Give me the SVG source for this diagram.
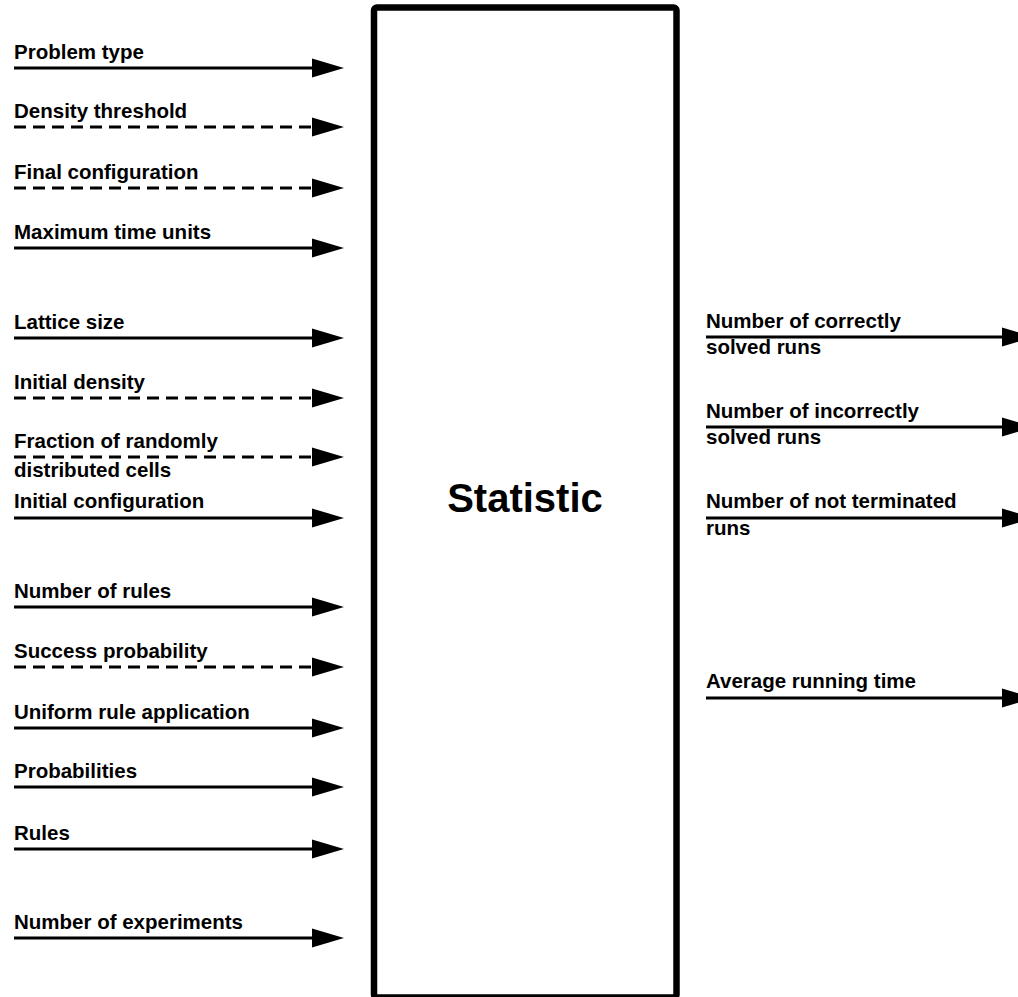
<svg xmlns="http://www.w3.org/2000/svg" width="1018" height="997" viewBox="0 0 1018 997">
<style>
text{font-family:"Liberation Sans",Arial,sans-serif;font-weight:bold;font-size:20.5px;fill:#000}
.title{font-size:40px}
.ln{stroke:#000;stroke-width:3;fill:none;marker-end:url(#ah)}
.d{stroke-dasharray:12 7}
</style>
<defs>
<marker id="ah" markerUnits="userSpaceOnUse" markerWidth="33" markerHeight="20" refX="0" refY="9.5" orient="auto" overflow="visible">
<path d="M0,0 L32,9.5 L0,19 Z" fill="#000" stroke="none"/>
</marker>
</defs>
<rect width="1018" height="997" fill="#fff"/>
<g id="statistic">
<rect x="374" y="7.5" width="302.5" height="990" rx="3" fill="#fff" stroke="#000" stroke-width="6.5"/>
<text class="title" x="525" y="512" text-anchor="middle">Statistic</text>
</g>
<g id="connectors">
<path class="ln" d="M14,68 H312"/>
<path class="ln d" d="M14,127 H312"/>
<path class="ln d" d="M14,188 H312"/>
<path class="ln" d="M14,248 H312"/>
<path class="ln" d="M14,338 H312"/>
<path class="ln d" d="M14,398 H312"/>
<path class="ln d" d="M14,457 H312"/>
<path class="ln" d="M14,518 H312"/>
<path class="ln" d="M14,607 H312"/>
<path class="ln d" d="M14,667 H312"/>
<path class="ln" d="M14,728 H312"/>
<path class="ln" d="M14,787 H312"/>
<path class="ln" d="M14,849 H312"/>
<path class="ln" d="M14,938 H312"/>
<path class="ln" d="M706,337 H1002"/>
<path class="ln" d="M706,427 H1002"/>
<path class="ln" d="M706,518 H1002"/>
<path class="ln" d="M706,698 H1002"/>
</g>
<g id="in-problem-type"><text x="14" y="59">Problem type</text></g>
<g id="in-density-threshold"><text x="14" y="118">Density threshold</text></g>
<g id="in-final-configuration"><text x="14" y="179">Final configuration</text></g>
<g id="in-maximum-time-units"><text x="14" y="239">Maximum time units</text></g>
<g id="in-lattice-size"><text x="14" y="329">Lattice size</text></g>
<g id="in-initial-density"><text x="14" y="389">Initial density</text></g>
<g id="in-fraction"><text x="14" y="448">Fraction of randomly</text><text x="14" y="477">distributed cells</text></g>
<g id="in-initial-configuration"><text x="14" y="508">Initial configuration</text></g>
<g id="in-number-of-rules"><text x="14" y="598">Number of rules</text></g>
<g id="in-success-probability"><text x="14" y="658">Success probability</text></g>
<g id="in-uniform-rule-application"><text x="14" y="719">Uniform rule application</text></g>
<g id="in-probabilities"><text x="14" y="778">Probabilities</text></g>
<g id="in-rules"><text x="14" y="840">Rules</text></g>
<g id="in-number-of-experiments"><text x="14" y="929">Number of experiments</text></g>
<g id="out-correct"><text x="706" y="328">Number of correctly</text><text x="706" y="354">solved runs</text></g>
<g id="out-incorrect"><text x="706" y="418">Number of incorrectly</text><text x="706" y="444">solved runs</text></g>
<g id="out-not-terminated"><text x="706" y="508">Number of not terminated</text><text x="706" y="535">runs</text></g>
<g id="out-average-running-time"><text x="706" y="688">Average running time</text></g>
</svg>
